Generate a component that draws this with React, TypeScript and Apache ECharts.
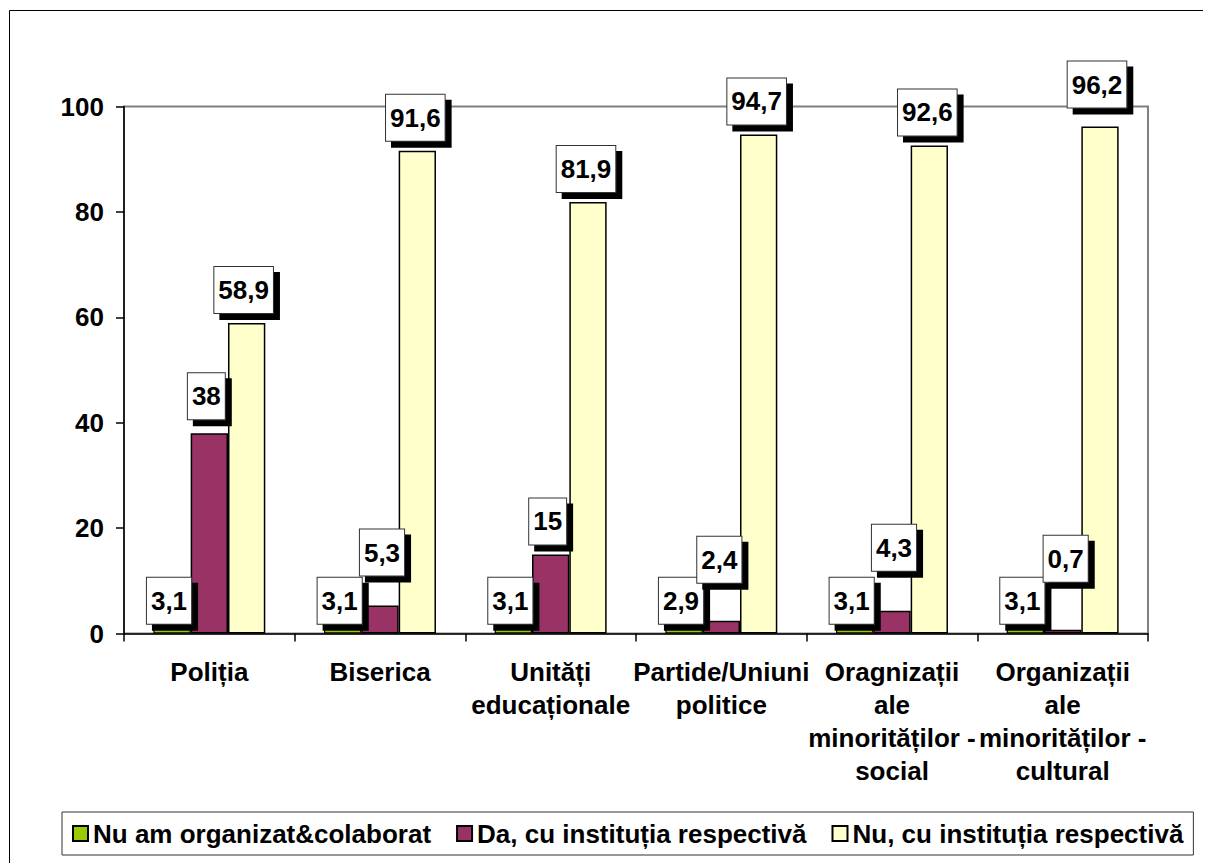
import React, { useEffect, useRef } from "react";
import * as echarts from "echarts";

// ---- data ----
const categories = [
  "Poliția",
  "Biserica",
  "Unități\neducaționale",
  "Partide/Uniuni\npolitice",
  "Oragnizații\nale\nminorităților -\nsocial",
  "Organizații\nale\nminorităților -\ncultural",
];
const seriesNames = [
  "Nu am organizat&colaborat",
  "Da, cu instituția respectivă",
  "Nu, cu instituția respectivă",
];
// green bars as drawn in the picture (short), and the labels printed on them
const greenBarValues = [1.3, 1.3, 1.3, 1.3, 1.3, 1.3];
const greenLabelValues = [3.1, 3.1, 3.1, 2.9, 3.1, 3.1];
const purpleValues = [38, 5.3, 15, 2.4, 4.3, 0.7];
const yellowValues = [58.9, 91.6, 81.9, 94.7, 92.6, 96.2];
const yTicks = { min: 0, max: 100, interval: 20 };

// ---- styles ----
const FONT = "'Liberation Sans', Arial, Helvetica, sans-serif";
const COLORS = ["#99CC00", "#993366", "#FFFFCC"];
const greenNudge = [[-3, 0], [-3, 0], [-3, 0], [-3, 0], [-3, 0], [-3, 0]];
const purpleNudge = [[-3, -4], [2, -20], [-3, 0], [-2, -28], [2, -30], [3, -38]];
const yellowNudge = [[-3, 0], [-2, 0], [-2, 0], [-2, 0], [-2, 0], [-3, -9]];

const fmt = (v: number) => String(v).replace(".", ",");

const labelBox = {
  show: true,
  position: "top" as const,
  color: "#000",
  fontFamily: FONT,
  fontWeight: "bold" as const,
  fontSize: 26,
  lineHeight: 30,
  padding: [8, 4, 8, 4],
  backgroundColor: "#fff",
  borderColor: "#333",
  borderWidth: 1,
  shadowColor: "#000",
  shadowBlur: 0,
  shadowOffsetX: 6,
  shadowOffsetY: 6,
};

export default function App() {
  const ref = useRef<HTMLDivElement>(null);
  useEffect(() => {
    if (!ref.current) return;
    const chart = echarts.init(ref.current, undefined, { renderer: "svg" });
    const barBase = {
      type: "bar" as const,
      barGap: "0%",
      barCategoryGap: "34.4%",
      itemStyle: { borderColor: "#000", borderWidth: 1.5 },
    };
    chart.setOption({
      animation: false,
      backgroundColor: "#fff",
      textStyle: { fontFamily: FONT, fontWeight: "bold", color: "#000" },
      grid: {
        left: 117,
        top: 98.5,
        width: 1024,
        height: 527,
        show: true,
        borderColor: "#808080",
        borderWidth: 2,
        backgroundColor: "transparent",
      },
      legend: {
        left: 55,
        top: 804,
        padding: [8, 10, 8, 10],
        itemGap: 25,
        itemWidth: 15,
        itemHeight: 15,
        icon: "rect",
        borderColor: "#333",
        borderWidth: 1,
        backgroundColor: "#fff",
        textStyle: {
          fontFamily: FONT,
          fontWeight: "bold",
          fontSize: 26,
          lineHeight: 27,
          color: "#000",
        },
        data: seriesNames,
      },
      xAxis: {
        type: "category",
        data: categories,
        z: 5,
        axisLine: { lineStyle: { color: "#000", width: 1.5 } },
        axisTick: { show: true, length: 8, interval: 0, lineStyle: { color: "#000", width: 1.5 } },
        axisLabel: {
          interval: 0,
          margin: 22,
          fontFamily: FONT,
          fontWeight: "bold",
          fontSize: 26,
          lineHeight: 33,
          color: "#000",
        },
      },
      yAxis: {
        type: "value",
        min: yTicks.min,
        max: yTicks.max,
        interval: yTicks.interval,
        z: 5,
        axisLine: { show: true, lineStyle: { color: "#000", width: 1.5 } },
        axisTick: { show: true, length: 8, lineStyle: { color: "#000", width: 1.5 } },
        splitLine: { show: false },
        axisLabel: {
          margin: 20,
          fontFamily: FONT,
          fontWeight: "bold",
          fontSize: 26,
          color: "#000",
        },
      },
      series: [
        {
          ...barBase,
          name: seriesNames[0],
          color: COLORS[0],
          itemStyle: { borderColor: "#000", borderWidth: 1.2 },
          data: greenBarValues.map((v, i) => ({
            value: v,
            label: { offset: greenNudge[i] },
          })),
          label: {
            ...labelBox,
            distance: 3,
            formatter: (p: any) => fmt(greenLabelValues[p.dataIndex]),
          },
        },
        {
          ...barBase,
          name: seriesNames[1],
          color: COLORS[1],
          data: purpleValues.map((v, i) => ({
            value: v,
            label: { offset: purpleNudge[i] },
          })),
          label: { ...labelBox, distance: 10, formatter: (p: any) => fmt(p.value) },
        },
        {
          ...barBase,
          name: seriesNames[2],
          color: COLORS[2],
          data: yellowValues.map((v, i) => ({
            value: v,
            label: { offset: yellowNudge[i] },
          })),
          label: { ...labelBox, distance: 10, formatter: (p: any) => fmt(p.value) },
        },
      ],
      graphic: [
        {
          type: "rect",
          left: 0,
          top: 0,
          shape: { width: 1195, height: 900 },
          style: { fill: "none", stroke: "#000", lineWidth: 1 },
          silent: true,
          z: -1,
        },
      ],
    });
    return () => chart.dispose();
  }, []);
  return (
    <div
      ref={ref}
      style={{ position: "fixed", left: 7, top: 8, width: 1196, height: 855 }}
    />
  );
}
